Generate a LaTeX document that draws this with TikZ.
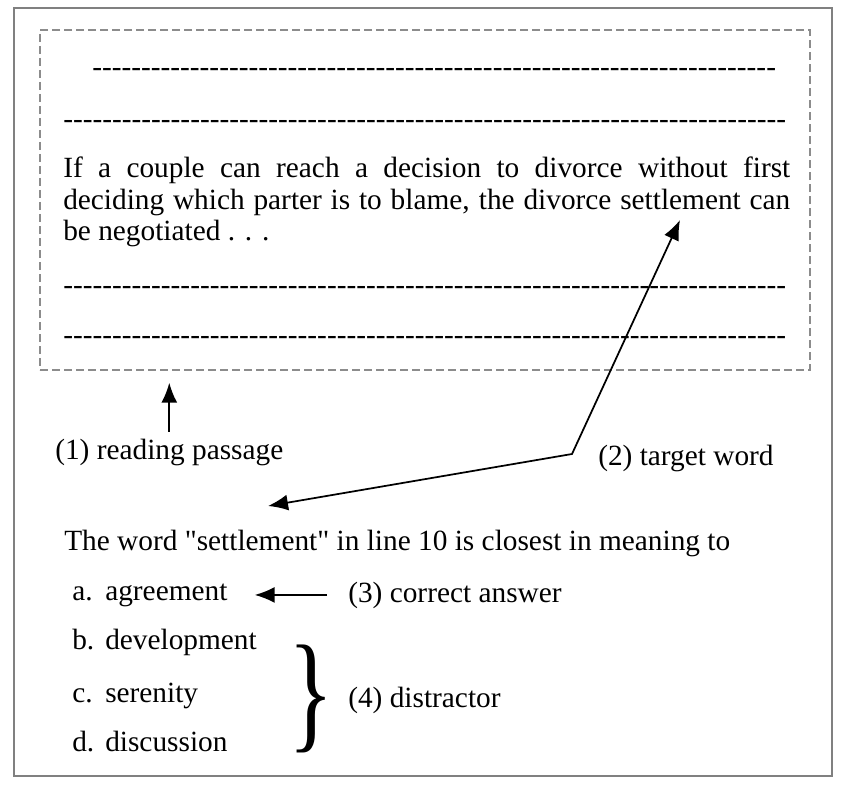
\documentclass[tikz,border=0pt]{standalone}
\usepackage{fontspec}
\setmainfont{Liberation Serif}[Ligatures=TeXOff]
\usepackage{graphicx}
\usetikzlibrary{arrows.meta}
\usetikzlibrary{positioning}
\usetikzlibrary{calc}
\newcommand{\hyrow}[1]{\foreach \k in {1,...,#1}{-}}

\begin{document}
\begin{tikzpicture}[x=0.75pt, y=-0.75pt,
   txt/.style={anchor=base west, inner sep=0pt, font=\fontsize{22}{23.6}\selectfont},
   arr/.style={line width=1.3pt, -{Latex[length=15pt, width=12pt]}}]
   		\definecolor{FrameGray}{RGB}{128,128,128};
   		\definecolor{BoxGray}{RGB}{140,140,140};
   		\def \ParW {545.25pt};
   		\def \OptW {24.75pt};
   		
   		\useasboundingbox (0,0) rectangle (842,788);
   		\draw [FrameGray, line width=1.5pt] (14,8) rectangle (832,776);
   		
   		\node[draw=BoxGray, dash pattern=on 6pt off 3pt, line width=1.1pt, minimum width=577.5pt, minimum height=255pt, inner sep=0pt](passage) at (425,200) {};
   		
   		\node[txt](dashA) at (92,76.5) {\hyrow{70}};
   		\node[txt](dashB) at (63,128.5) {\hyrow{74}};
   		\node[txt, text width=\ParW, align=justify](para) at (63,178) {If a couple can reach a decision to divorce without first\linebreak deciding which parter is to blame, the divorce settlement can\linebreak be negotiated . . .};
   		\node[txt](dashC) at (63,294.5) {\hyrow{74}};
   		\node[txt](dashD) at (63,344.5) {\hyrow{74}};
   		
   		\node[txt](lblread) at (55,459) {(1) reading passage};
   		\draw [arr, shorten <=5pt, shorten >=9pt] (lblread.north) -- (lblread.north |- passage.south);
   		
   		\node[txt](lbltarget) at (598,465) {(2) target word};
   		\coordinate (bend) at (572,454);
   		\coordinate (wordtip) at (680,220);
   		\coordinate (stemtip) at (268,506);
   		\draw [line width=1.3pt, {Latex[length=15pt, width=12pt]}-{Latex[length=15pt, width=12pt]}] (stemtip) -- (bend) -- (wordtip);
   		
   		\node[txt](stem) at (64,550) {The word "settlement" in line 10 is closest in meaning to};
   		\foreach \l/\w/\y [count=\i] in {a./agreement/600, b./development/649, c./serenity/702, d./discussion/751}
   		\node[txt](opt\i) at (72,\y) {\makebox[\OptW][l]{\l}\w};
   		
   		\node[txt](lblcorrect) at (348,602) {(3) correct answer};
   		\draw [arr, shorten <=15.75pt, shorten >=20.25pt] (lblcorrect.west) -- (lblcorrect.west -| opt1.east);
   		
   		\node[inner sep=0pt](brace) at (311,699) {\resizebox*{34pt}{81pt}{\}}};
   		\node[txt](lbldistract) at (348,707) {(4) distractor};
   		
\end{tikzpicture}
\end{document}
